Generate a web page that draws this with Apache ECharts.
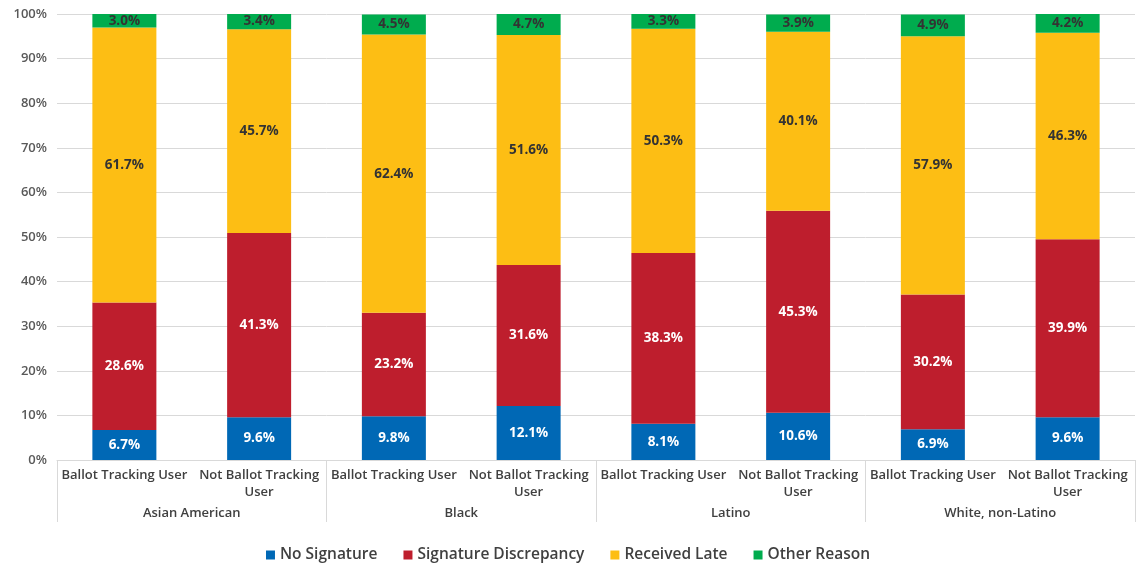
<!DOCTYPE html>
<html>
<head>
<meta charset="utf-8">
<script src="https://cdn.jsdelivr.net/npm/echarts@6/dist/echarts.min.js"></script>
<style>
  html, body { margin: 0; padding: 0; background: #fff; }
  #chart { width: 1136px; height: 564px; }
</style>
</head>
<body>
<div id="chart"></div>
<script>
// Rejected ballot reasons by group and ballot-tracking use (percent of rejected ballots)
const groups = ['Asian American', 'Black', 'Latino', 'White, non-Latino'];
const subCategories = ['Ballot Tracking User', 'Not Ballot Tracking User'];
const categories = [];
groups.forEach(g => subCategories.forEach(s => categories.push(s)));

const noSignature = [6.7, 9.6, 9.8, 12.1, 8.1, 10.6, 6.9, 9.6];
const signatureDiscrepancy = [28.6, 41.3, 23.2, 31.6, 38.3, 45.3, 30.2, 39.9];
const receivedLate = [61.7, 45.7, 62.4, 51.6, 50.3, 40.1, 57.9, 46.3];
const otherReason = [3.0, 3.4, 4.5, 4.7, 3.3, 3.9, 4.9, 4.2];

const yTicks = [0, 10, 20, 30, 40, 50, 60, 70, 80, 90, 100];

const FONT = '"Open Sans", "Noto Sans", sans-serif';
const gridColor = '#d9d9d9';

function makeSeries(name, values, color, labelColor) {
  return {
    name: name,
    type: 'bar',
    stack: 'total',
    barWidth: 64,
    data: values,
    itemStyle: { color: color },
    label: {
      show: true,
      position: 'inside',
      formatter: p => p.value.toFixed(1) + '%',
      color: labelColor,
      fontFamily: FONT,
      fontWeight: 'bold',
      fontSize: 13.5
    }
  };
}

const chart = echarts.init(document.getElementById('chart'), null, { renderer: 'canvas' });
chart.setOption({
  animation: false,
  grid: { left: 57, right: 1, top: 14, bottom: 104, containLabel: false },
  legend: {
    bottom: -4,
    left: 'center',
    itemWidth: 9,
    itemHeight: 9,
    itemGap: 26,
    icon: 'rect',
    textStyle: { fontFamily: FONT, fontSize: 15.5, color: '#404040', fontWeight: 600 },
    data: ['No Signature', 'Signature Discrepancy', 'Received Late', 'Other Reason']
  },
  xAxis: [
    {
      type: 'category',
      data: categories,
      position: 'bottom',
      axisLine: { show: true, lineStyle: { color: gridColor, width: 1 } },
      axisTick: { show: false },
      axisLabel: {
        interval: 0,
        margin: 7,
        fontFamily: FONT,
        fontSize: 13,
        fontWeight: 600,
        color: '#404040',
        lineHeight: 17,
        formatter: v => v.replace('Not Ballot Tracking ', 'Not Ballot Tracking\n')
      }
    },
    {
      type: 'category',
      data: groups,
      position: 'bottom',
      offset: 0,
      axisLine: { show: false },
      axisTick: { show: true, length: 62, interval: 0, lineStyle: { color: gridColor, width: 1 } },
      axisLabel: {
        interval: 0,
        margin: 47,
        fontFamily: FONT,
        fontSize: 13,
        fontWeight: 600,
        color: '#404040'
      },
      splitLine: { show: false }
    }
  ],
  yAxis: {
    type: 'value',
    min: yTicks[0],
    max: yTicks[yTicks.length - 1],
    interval: 10,
    axisLine: { show: false },
    axisTick: { show: false },
    splitLine: { lineStyle: { color: gridColor, width: 1 } },
    axisLabel: {
      margin: 10,
      fontFamily: FONT,
      fontSize: 13,
      fontWeight: 600,
      color: '#595959',
      formatter: v => v + '%'
    }
  },
  series: [
    makeSeries('No Signature', noSignature, '#0068b5', '#ffffff'),
    makeSeries('Signature Discrepancy', signatureDiscrepancy, '#be1e2d', '#ffffff'),
    makeSeries('Received Late', receivedLate, '#fdbe14', '#333333'),
    makeSeries('Other Reason', otherReason, '#00ac4e', '#333333')
  ]
});
</script>
</body>
</html>
